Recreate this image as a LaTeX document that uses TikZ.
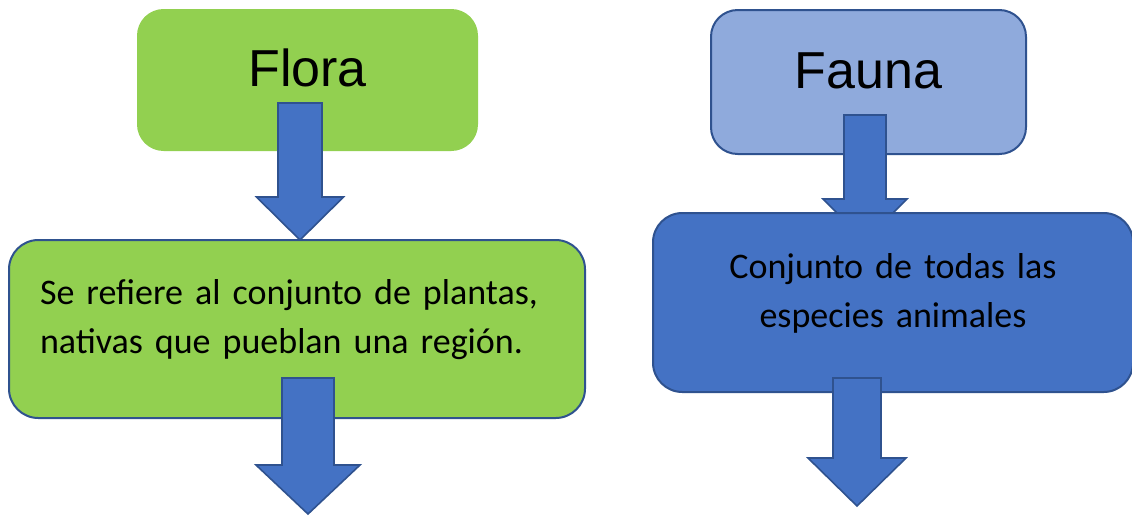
\documentclass[tikz,border=0pt]{standalone}
\usepackage{fontspec}
\setmainfont{Carlito}
\newfontfamily\arialf{Liberation Sans}
\definecolor{floragreen}{HTML}{92D050}
\definecolor{lightblue}{HTML}{8FAADC}
\definecolor{midblue}{HTML}{4472C4}
\definecolor{edgeblue}{HTML}{2F528F}
\tikzset{
  titlebox/.style={rounded corners=20pt, inner sep=0pt, text height=9pt, text depth=0pt,
    font=\arialf\fontsize{39}{47}\selectfont, text=black},
  bodybox/.style={rounded corners=22pt, draw=edgeblue, line width=1.5pt, inner sep=0pt,
    font=\fontsize{27}{36.75}\selectfont, text=black, text height=0pt, text depth=36.75pt},
  blockarrow/.style={fill=midblue, draw=edgeblue, line width=1.2pt, line join=miter}
}
% #1 centre x, #2 top y, #3 shaft half width, #4 head start y, #5 head half width, #6 tip y
\newcommand{\blkarrow}[6]{%
  \draw[blockarrow] (#1-#3,#2) -- (#1+#3,#2) -- (#1+#3,#4) -- (#1+#5,#4) -- (#1,#6)
    -- (#1-#5,#4) -- (#1-#3,#4) -- cycle;}
\begin{document}
\begin{tikzpicture}[x=0.75pt,y=-0.75pt]
\useasboundingbox (0,0) rectangle (1132,515);
\fill[white] (0,0) rectangle (1132,515);
% top boxes
\node[titlebox, fill=floragreen, minimum width=255.75pt, minimum height=106.5pt]
  (flora) at (307.5,80) {Flora};
\node[titlebox, fill=lightblue, draw=edgeblue, line width=1.5pt,
  minimum width=236.25pt, minimum height=108pt]
  (fauna) at (868.5,82) {Fauna};
% arrows from the title boxes
\blkarrow{300}{103}{22}{197}{43.5}{240}
\blkarrow{865}{115}{21}{199}{42}{241}
% description boxes
\node[bodybox, fill=floragreen, minimum width=432pt, minimum height=133.5pt,
  text width=385.5pt, align=left] (floradesc) at (297,329)
  {Se refiere al conjunto de plantas,\\nativas que pueblan una región.};
\node[bodybox, fill=midblue, minimum width=360pt, minimum height=134.25pt,
  text width=320pt, align=center] (faunadesc) at (893,302.5)
  {Conjunto de todas las\\especies animales};
% arrows from the description boxes
\blkarrow{308}{378}{26}{465}{52}{514}
\blkarrow{857}{378}{24}{458}{49}{506}
\end{tikzpicture}
\end{document}
